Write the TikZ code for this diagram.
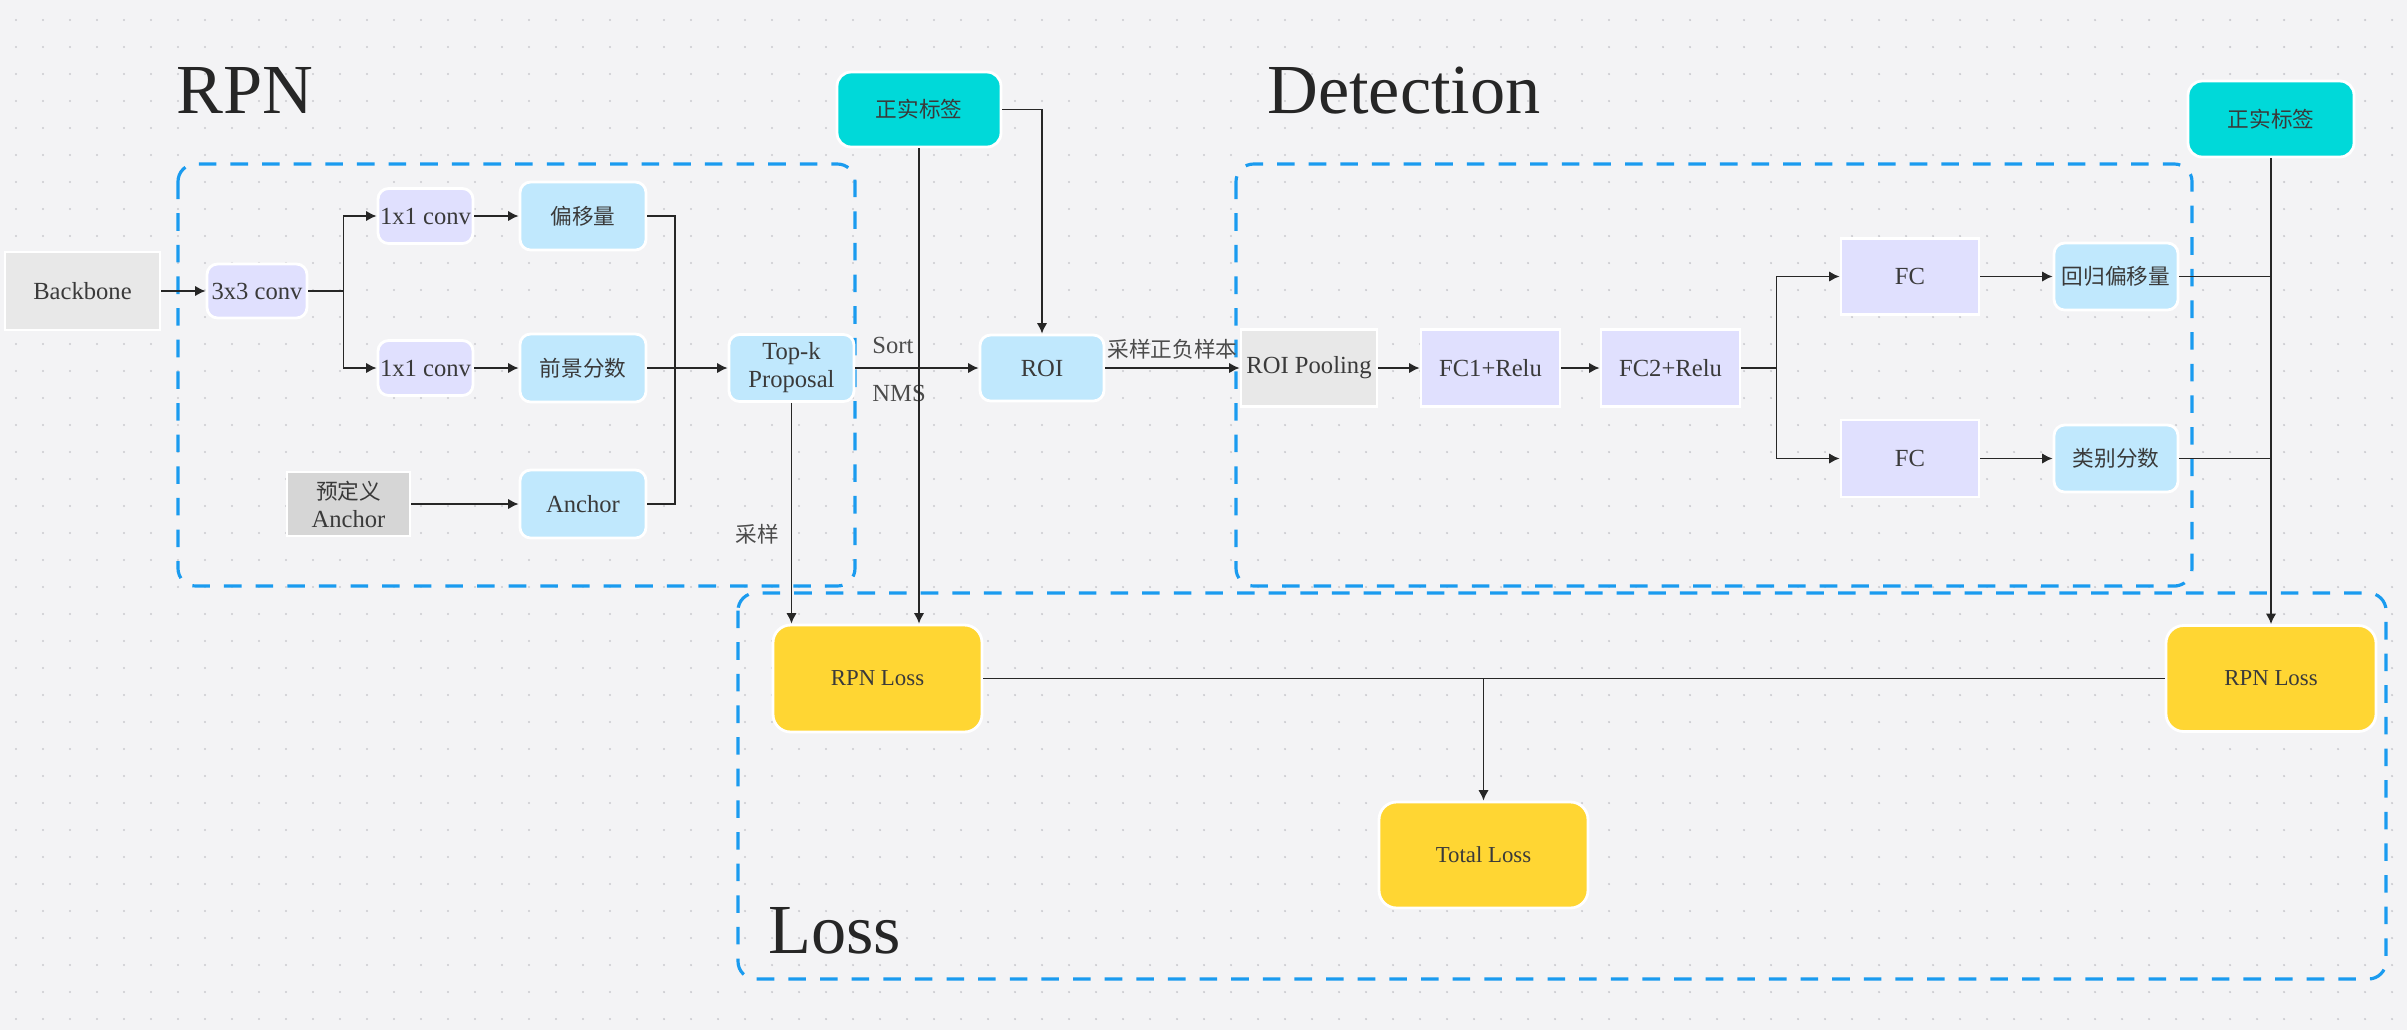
\documentclass[tikz,border=0pt]{standalone}
\usepackage{fontspec}
\setmainfont{Liberation Serif}
\newfontfamily\cjk[Scale=0.88]{Noto Sans CJK SC}
\usepackage{tikz}
\usetikzlibrary{calc,arrows.meta,positioning}

\definecolor{bgcol}{HTML}{F3F3F5}
\definecolor{dotcol}{HTML}{CBCBD0}
\definecolor{lavcol}{HTML}{E0E0FE}
\definecolor{skycol}{HTML}{C0E8FD}
\definecolor{greycol}{HTML}{E8E8E8}
\definecolor{darkgreycol}{HTML}{D6D6D6}
\definecolor{gtcol}{HTML}{00D9D9}
\definecolor{goldcol}{HTML}{FFD633}
\definecolor{framecol}{HTML}{1A9BEF}
\definecolor{txtcol}{HTML}{3A3A3A}

\begin{document}
\begin{tikzpicture}[x=1cm,y=-1cm,
	box/.style={draw=white, line width=0.8pt, text=txtcol, align=center, inner sep=0pt,
		font=\fontsize{7}{8}\selectfont},
	lavbox/.style={box, fill=lavcol, rounded corners=3pt},
	fcbox/.style={box, fill=lavcol},
	skybox/.style={box, fill=skycol, rounded corners=3pt},
	greybox/.style={box, fill=greycol},
	gtbox/.style={box, fill=gtcol, rounded corners=4pt},
	lossbox/.style={box, fill=goldcol, rounded corners=5pt, font=\fontsize{6.5}{8}\selectfont},
	arr/.style={-{Latex[length=3pt,width=3pt]}, line width=0.5pt, color=black!85},
	ln/.style={line width=0.5pt, color=black!85},
	groupframe/.style={draw=framecol, line width=0.9pt, dash pattern=on 5pt off 4pt, rounded corners=5pt},
	title/.style={anchor=base west, text=black!85, font=\fontsize{20}{24}\selectfont},
	lbl/.style={text=black!70, font=\fontsize{7}{8}\selectfont}]
	
	% background with dots
	\fill[bgcol] (0,0) rectangle (24.07,10.30);
	\useasboundingbox (0,0) rectangle (24.07,10.30);
	\foreach \i in {0,...,88}
		\foreach \j in {0,...,37}
			\fill[dotcol] (0.16+0.27*\i,0.20+0.27*\j) circle (0.012);
	
	% frames
	\draw[groupframe] (1.78,1.64) rectangle (8.55,5.86);
	\draw[groupframe] (12.36,1.64) rectangle (21.92,5.86);
	\draw[groupframe] (7.38,5.93) rectangle (23.86,9.79);
	
	\node[title] (rpntitle) at (1.64,1.13) {RPN};
	\node[title] (dettitle) at (12.55,1.13) {Detection};
	\node[title] (losstitle) at (7.56,9.53) {Loss};
	
	% RPN part
	\node[greybox, minimum width=1.55cm, minimum height=0.78cm] (backbone) at (0.825,2.91) {Backbone};
	\node[lavbox, minimum width=1.00cm, minimum height=0.54cm] (conv3) at (2.57,2.91) {3x3 conv};
	\node[lavbox, minimum width=0.95cm, minimum height=0.55cm] (conva) at (4.255,2.16) {1x1 conv};
	\node[lavbox, minimum width=0.95cm, minimum height=0.55cm] (convb) at (4.255,3.68) {1x1 conv};
	\node[skybox, minimum width=1.26cm, minimum height=0.68cm] (offset) at (5.83,2.16) {\cjk 偏移量};
	\node[skybox, minimum width=1.26cm, minimum height=0.68cm] (fgscore) at (5.83,3.68) {\cjk 前景分数};
	\node[skybox, minimum width=1.26cm, minimum height=0.68cm] (anchor) at (5.83,5.04) {Anchor};
	\node[box, fill=darkgreycol, minimum width=1.23cm, minimum height=0.64cm] (predef) at (3.485,5.04) {{\cjk 预定义}\\Anchor};
	\node[skybox, minimum width=1.25cm, minimum height=0.67cm] (topk) at (7.915,3.68) {Top-k\\Proposal};
	\node[gtbox, minimum width=1.64cm, minimum height=0.75cm] (gtrpn) at (9.19,1.095) {\cjk 正实标签};
	\node[skybox, minimum width=1.24cm, minimum height=0.66cm] (roi) at (10.42,3.68) {ROI};
	
	\coordinate (merge) at (6.75,3.68);
	\draw[arr] (backbone) -- (conv3);
	\draw[arr] (conv3.east) -- ++(0.35,0) |- (conva);
	\draw[arr] (conv3.east) -- ++(0.35,0) |- (convb);
	\draw[arr] (conva) -- (offset);
	\draw[arr] (convb) -- (fgscore);
	\draw[arr] (predef) -- (anchor);
	\draw[ln] (offset.east) -| (merge);
	\draw[ln] (anchor.east) -| (merge);
	\draw[arr] (fgscore) -- (topk);
	\draw[arr] (topk) -- (roi);
	\node[lbl, anchor=west] (sortlbl) at (8.60,3.45) {Sort};
	\node[lbl, anchor=west] (nmslbl) at (8.60,3.93) {NMS};
	\draw[arr] (gtrpn.east) -| (roi.north);
	
	% Detection part
	\node[greybox, minimum width=1.36cm, minimum height=0.77cm] (roipool) at (13.09,3.68) {ROI Pooling};
	\node[fcbox, minimum width=1.39cm, minimum height=0.77cm] (fcone) at (14.905,3.68) {FC1+Relu};
	\node[fcbox, minimum width=1.39cm, minimum height=0.77cm] (fctwo) at (16.705,3.68) {FC2+Relu};
	\node[fcbox, minimum width=1.38cm, minimum height=0.76cm] (fcreg) at (19.10,2.765) {FC};
	\node[fcbox, minimum width=1.38cm, minimum height=0.77cm] (fccls) at (19.10,4.585) {FC};
	\node[skybox, minimum width=1.24cm, minimum height=0.67cm] (regoff) at (21.16,2.765) {\cjk 回归偏移量};
	\node[skybox, minimum width=1.24cm, minimum height=0.67cm] (clsscore) at (21.16,4.585) {\cjk 类别分数};
	\node[gtbox, minimum width=1.66cm, minimum height=0.76cm] (gtdet) at (22.71,1.19) {\cjk 正实标签};
	
	\draw[arr] (roi) -- node[lbl, above=-1pt] {\cjk 采样正负样本} (roipool);
	\draw[arr] (roipool) -- (fcone);
	\draw[arr] (fcone) -- (fctwo);
	\draw[arr] (fctwo.east) -- ++(0.35,0) |- (fcreg);
	\draw[arr] (fctwo.east) -- ++(0.35,0) |- (fccls);
	\draw[arr] (fcreg) -- (regoff);
	\draw[arr] (fccls) -- (clsscore);
	
	% Loss part
	\node[lossbox, minimum width=2.09cm, minimum height=1.07cm] (rpnloss) at (8.775,6.785) {RPN Loss};
	\node[lossbox, minimum width=2.10cm, minimum height=1.06cm] (detloss) at (22.71,6.785) {RPN Loss};
	\node[lossbox, minimum width=2.09cm, minimum height=1.06cm] (totalloss) at (14.835,8.55) {Total Loss};
	
	\draw[arr] (topk.south) -- (topk.south |- rpnloss.north);
	\node[lbl] (samplelbl) at (7.57,5.34) {\cjk 采样};
	\draw[arr] (gtrpn.south) -- (gtrpn.south |- rpnloss.north);
	\draw[arr] (gtdet.south) -- (detloss.north);
	\draw[ln] (regoff.east) -- (regoff.east -| gtdet.south);
	\draw[ln] (clsscore.east) -- (clsscore.east -| gtdet.south);
	\draw[ln] (rpnloss.east) -- (detloss.west);
	\draw[arr] (totalloss.north |- rpnloss.east) -- (totalloss.north);
	
\end{tikzpicture}
\end{document}
